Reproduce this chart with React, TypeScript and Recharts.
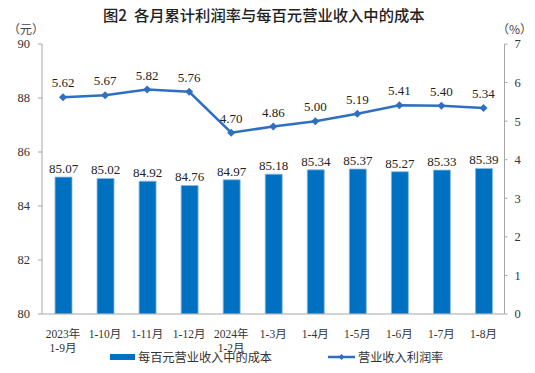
import React from 'react';
import { ComposedChart, Bar, Line, XAxis, YAxis, LabelList, Legend, Customized } from 'recharts';

const categories = ['2023年\n1-9月', '1-10月', '1-11月', '1-12月', '2024年\n1-2月', '1-3月', '1-4月', '1-5月', '1-6月', '1-7月', '1-8月'];
const costPer100 = [85.07, 85.02, 84.92, 84.76, 84.97, 85.18, 85.34, 85.37, 85.27, 85.33, 85.39];
const profitRate = [5.62, 5.67, 5.82, 5.76, 4.70, 4.86, 5.00, 5.19, 5.41, 5.40, 5.34];
const leftTicks = [80, 82, 84, 86, 88, 90];
const rightTicks = [0, 1, 2, 3, 4, 5, 6, 7];

const data = categories.map((c, i) => ({ name: c, cost: costPer100[i], rate: profitRate[i] }));

const BAR_COLOR = '#0070C0';
const LINE_COLOR = '#2E6FC3';
const SERIF = '"Liberation Serif", "Times New Roman", "Noto Sans CJK SC", serif';
const CJK = '"Noto Sans CJK SC", sans-serif';

const XTick = (props: any) => {
  const { x, y, payload } = props;
  const lines = String(payload.value).split('\n');
  return (
    <g>
      {lines.map((l: string, i: number) => (
        <text key={i} x={x} y={y + 16 + i * 14} textAnchor="middle" fontFamily={SERIF} fontSize={11.5} fill="#333">
          {l}
        </text>
      ))}
    </g>
  );
};

const Diamond = (props: any) => {
  const { cx, cy } = props;
  if (cx == null || cy == null) return null;
  const r = 4;
  return <path d={`M${cx},${cy - r}L${cx + r},${cy}L${cx},${cy + r}L${cx - r},${cy}Z`} fill={LINE_COLOR} stroke="none" />;
};

const LegendContent = () => (
  <svg width={535} height={22} style={{ display: 'block' }}>
    <rect x={110} y={8} width={25} height={6} fill={BAR_COLOR} />
    <text x={138} y={16} fontFamily={CJK} fontSize={12.2} fill="#333">每百元营业收入中的成本</text>
    <line x1={328} y1={11} x2={355} y2={11} stroke={LINE_COLOR} strokeWidth={2.5} />
    <path d="M341.5,8L344.5,11L341.5,14L338.5,11Z" fill={LINE_COLOR} />
    <text x={358} y={16} fontFamily={CJK} fontSize={12.2} fill="#333">营业收入利润率</text>
  </svg>
);

const Frame = (props: any) => {
  const off = props.offset || {};
  const { left, top, width } = off;
  if (left == null) return null;
  return <line x1={left} y1={top} x2={left + width} y2={top} stroke="#A6A6A6" strokeWidth={1} />;
};

export default function App() {
  return (
    <div style={{ position: 'absolute', left: 0, top: 0, width: 535, height: 373, background: '#fff' }}>
      <ComposedChart width={535} height={373} data={data} margin={{ top: 44, right: 0, left: 0, bottom: 29 }} barCategoryGap={0}>
        <text x={103} y={21} fontFamily={CJK} fontSize={15.3} fontWeight={500} fill="#222" style={{ whiteSpace: 'pre' }} xmlSpace="preserve">{'图2  各月累计利润率与每百元营业收入中的成本'}</text>
        <text x={8} y={34} fontFamily={CJK} fontSize={12} fill="#444">（元）</text>
        <text x={497} y={34} fontFamily={CJK} fontSize={12} fill="#444">（%）</text>
        <XAxis dataKey="name" interval={0} tick={<XTick />} tickLine={false} axisLine={{ stroke: '#A6A6A6' }} height={30} />
        <YAxis yAxisId="left" domain={[80, 90]} ticks={leftTicks} width={42} tickSize={4} tickMargin={8}
          axisLine={{ stroke: '#A6A6A6' }} tickLine={{ stroke: '#A6A6A6' }}
          tick={{ fontFamily: SERIF, fontSize: 12.5, fill: '#333' }} allowDataOverflow />
        <YAxis yAxisId="right" orientation="right" domain={[0, 7]} ticks={rightTicks} width={30.5} tickSize={3} tickMargin={7}
          axisLine={{ stroke: '#A6A6A6' }} tickLine={{ stroke: '#A6A6A6' }}
          tick={{ fontFamily: SERIF, fontSize: 12.5, fill: '#333', textAnchor: 'start' }} />
        <Customized component={Frame} />
        <Bar yAxisId="left" dataKey="cost" barSize={17} fill={BAR_COLOR} stroke="#8DBBE6" strokeWidth={0.8} isAnimationActive={false}>
          <LabelList dataKey="cost" position="top" offset={4} formatter={(v: any) => Number(v).toFixed(2)}
            style={{ fontFamily: SERIF, fontSize: 13, fill: '#222' }} />
        </Bar>
        <Line yAxisId="right" dataKey="rate" stroke={LINE_COLOR} strokeWidth={2.5} dot={<Diamond />} activeDot={false} isAnimationActive={false}>
          <LabelList dataKey="rate" position="top" offset={10} formatter={(v: any) => Number(v).toFixed(2)}
            style={{ fontFamily: SERIF, fontSize: 13, fill: '#222' }} />
        </Line>
        <Legend layout="horizontal" verticalAlign="middle" align="center" content={<LegendContent />}
          wrapperStyle={{ position: 'absolute', top: 346, left: 0, width: 535, height: 22 }} />
      </ComposedChart>
    </div>
  );
}
